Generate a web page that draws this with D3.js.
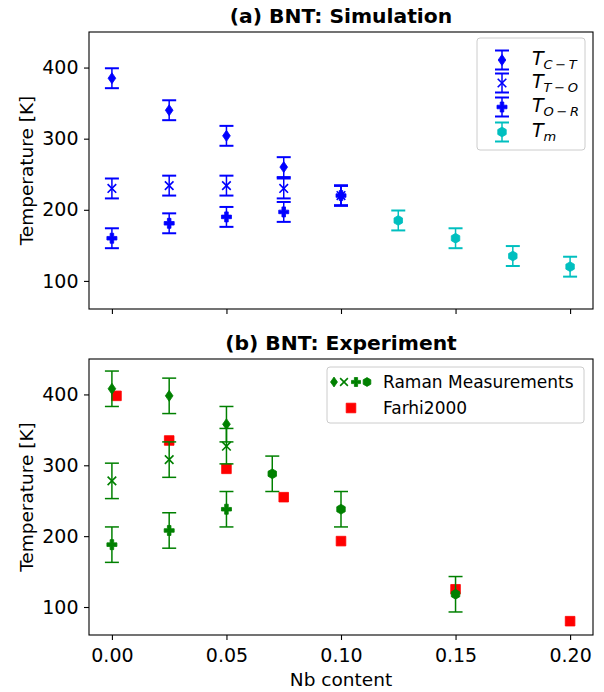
<!DOCTYPE html>
<html>
<head>
<meta charset="utf-8">
<script src="https://cdn.jsdelivr.net/npm/d3@7"></script>
<style>
  body { margin: 0; background: #fff; }
  svg { font-family: "DejaVu Sans", sans-serif; }
</style>
</head>
<body>
<div id="chart"></div>
<script>
// ---- data ----
// (a) simulation
const simX   = [0, 0.025, 0.05, 0.075, 0.1];
const simTCT = [385, 340, 304, 260, 220];
const simTTO = [230, 234, 234, 230, 220];
const simTOR = [160, 181, 190, 197, 220];
const simMeltX = [0.125, 0.15, 0.175, 0.2];
const simTm    = [185, 160, 135, 120];
const simErr = 14;

// (b) experiment
const expX   = [0, 0.025, 0.05];
const expTCT = [408, 398, 358];
const expTTO = [278, 308, 327];
const expTOR = [188, 208, 238];
const expMeltX = [0.07, 0.1, 0.15];
const expTm    = [288, 238, 118];
const expErr = 25;
const farhiX = [0.002, 0.025, 0.05, 0.075, 0.1, 0.15, 0.2];
const farhiT = [398, 335, 295, 255, 193, 125, 80];

const xTicks = [0, 0.05, 0.1, 0.15, 0.2];
const yTicks = [100, 200, 300, 400];
const yDomain = [60.5, 450];

// ---- layout ----
const W = 604, H = 692;
const svg = d3.select("#chart").append("svg")
	.attr("width", W).attr("height", H);

const x = d3.scaleLinear([-0.01, 0.21], [89, 593]);

const blue = "#0000ff", cyan = "#00bfbf", green = "#008000", red = "#ff0000";

// marker shapes, r = half size
function markerPath(shape, r) {
	if (shape === "d") return `M0,${-r}L${0.7 * r},0L0,${r}L${-0.7 * r},0Z`;
	if (shape === "x") return `M${-r},${-r}L${r},${r}M${-r},${r}L${r},${-r}`;
	if (shape === "P") {
		const a = r / 2.8;
		return `M${-a},${-r}H${a}V${-a}H${r}V${a}H${a}V${r}H${-a}V${a}H${-r}V${-a}H${-a}Z`;
	}
	if (shape === "h") {
		const pts = d3.range(6).map(k => {
			const ang = (-90 + k * 60) * Math.PI / 180;
			return [r * Math.cos(ang), r * Math.sin(ang)];
		});
		return "M" + pts.map(p => p.join(",")).join("L") + "Z";
	}
	if (shape === "s") return `M${-r},${-r}H${r}V${r}H${-r}Z`;
}
const markerSize = { d: 5.5, x: 4.3, P: 5, h: 4.9, s: 4.8 };

function drawMarker(sel, shape, color, r) {
	sel.attr("d", markerPath(shape, r || markerSize[shape]));
	if (shape === "x") sel.attr("fill", "none").attr("stroke", color).attr("stroke-width", 1.6);
	else sel.attr("fill", color).attr("stroke", color).attr("stroke-width", 0.8);
}

function drawSeries(g, y, xs, ys, err, shape, color, capW) {
	const pts = xs.map((v, i) => [v, ys[i]]);
	const grp = g.append("g");
	if (err) {
		grp.selectAll("line.bar").data(pts).join("line")
			.attr("x1", d => x(d[0])).attr("x2", d => x(d[0]))
			.attr("y1", d => y(d[1] - err)).attr("y2", d => y(d[1] + err))
			.attr("stroke", color).attr("stroke-width", 1.5);
		[-1, 1].forEach(s => {
			grp.selectAll(null).data(pts).join("line")
				.attr("x1", d => x(d[0]) - 7).attr("x2", d => x(d[0]) + 7)
				.attr("y1", d => y(d[1] + s * err)).attr("y2", d => y(d[1] + s * err))
				.attr("stroke", color).attr("stroke-width", capW);
		});
	}
	grp.selectAll("path.m").data(pts).join("path")
		.attr("transform", d => `translate(${x(d[0])},${y(d[1])})`)
		.call(drawMarker, shape, color);
}

function drawPanel(top, bottom, title, showXLabels) {
	const y = d3.scaleLinear(yDomain, [bottom, top]);
	const g = svg.append("g");

	// axes
	const ax = g.append("g").attr("transform", `translate(0,${bottom})`)
		.call(d3.axisBottom(x).tickValues(xTicks).tickSize(5).tickPadding(8.5)
			.tickFormat(showXLabels ? d3.format(".2f") : () => ""));
	const ay = g.append("g").attr("transform", `translate(${x.range()[0]},0)`)
		.call(d3.axisLeft(y).tickValues(yTicks).tickSize(5).tickPadding(5.5));
	[ax, ay].forEach(a => {
		a.select(".domain").remove();
		a.selectAll(".tick line").attr("stroke", "#000").attr("stroke-width", 1.1);
		a.selectAll("text").attr("font-size", 19).attr("font-family", "DejaVu Sans").attr("fill", "#000");
	});

	// frame
	g.append("rect")
		.attr("x", x.range()[0]).attr("y", top)
		.attr("width", x.range()[1] - x.range()[0]).attr("height", bottom - top)
		.attr("fill", "none").attr("stroke", "#000").attr("stroke-width", 1.1);

	g.append("text")
		.attr("x", (x.range()[0] + x.range()[1]) / 2).attr("y", top - 9)
		.attr("text-anchor", "middle").attr("font-weight", "bold").attr("font-size", 20.3)
		.text(title);

	g.append("text")
		.attr("transform", `translate(33,${(top + bottom) / 2})rotate(-90)`)
		.attr("text-anchor", "middle").attr("font-size", 18.5)
		.text("Temperature [K]");

	return { g, y };
}

// ---- (a) simulation ----
const pa = drawPanel(32, 309, "(a) BNT: Simulation", false);
drawSeries(pa.g, pa.y, simX, simTCT, simErr, "d", blue, 2);
drawSeries(pa.g, pa.y, simX, simTTO, simErr, "x", blue, 2);
drawSeries(pa.g, pa.y, simX, simTOR, simErr, "P", blue, 2);
drawSeries(pa.g, pa.y, simMeltX, simTm, simErr, "h", cyan, 2);

// legend (a)
const legA = svg.append("g");
legA.append("rect").attr("x", 477).attr("y", 38).attr("width", 108).attr("height", 112)
	.attr("rx", 3).attr("fill", "#fff").attr("fill-opacity", 0.8)
	.attr("stroke", "#cccccc").attr("stroke-width", 1);
const legAItems = [
	{ sub: "C\u2009\u2212\u2009T", shape: "d", color: blue, y: 60 },
	{ sub: "T\u2009\u2212\u2009O", shape: "x", color: blue, y: 83 },
	{ sub: "O\u2009\u2212\u2009R", shape: "P", color: blue, y: 107 },
	{ sub: "m", shape: "h", color: cyan, y: 132 }
];
legAItems.forEach(it => {
	const hx = 502;
	legA.append("line").attr("x1", hx).attr("x2", hx).attr("y1", it.y - 9.5).attr("y2", it.y + 9.5)
		.attr("stroke", it.color).attr("stroke-width", 1.5);
	[-9.5, 9.5].forEach(o => legA.append("line")
		.attr("x1", hx - 7).attr("x2", hx + 7).attr("y1", it.y + o).attr("y2", it.y + o)
		.attr("stroke", it.color).attr("stroke-width", 2));
	legA.append("path").attr("transform", `translate(${hx},${it.y})`).call(drawMarker, it.shape, it.color);
	const t = legA.append("text").attr("x", 532).attr("y", it.y + 5).attr("font-size", 19);
	t.append("tspan").attr("font-style", "italic").text("T");
	t.append("tspan").attr("font-style", "italic").attr("font-size", 13).attr("dy", 4).text(it.sub);
});

// ---- (b) experiment ----
const pb = drawPanel(359, 635, "(b) BNT: Experiment", true);
drawSeries(pb.g, pb.y, farhiX, farhiT, 0, "s", red, 0);
drawSeries(pb.g, pb.y, expX, expTCT, expErr, "d", green, 1.5);
drawSeries(pb.g, pb.y, expX, expTTO, expErr, "x", green, 1.5);
drawSeries(pb.g, pb.y, expX, expTOR, expErr, "P", green, 1.5);
drawSeries(pb.g, pb.y, expMeltX, expTm, expErr, "h", green, 1.5);

// legend (b)
const legB = svg.append("g");
legB.append("rect").attr("x", 327).attr("y", 367).attr("width", 257).attr("height", 56)
	.attr("rx", 3).attr("fill", "#fff").attr("fill-opacity", 0.8)
	.attr("stroke", "#cccccc").attr("stroke-width", 1);
[["d", 334], ["x", 344], ["P", 356], ["h", 367]].forEach(([s, hx]) => {
	legB.append("path").attr("transform", `translate(${hx},382)`)
		.call(drawMarker, s, green, markerSize[s] * 0.9);
});
legB.append("text").attr("x", 383).attr("y", 388).attr("font-size", 17).text("Raman Measurements");
legB.append("path").attr("transform", "translate(351,408)").call(drawMarker, "s", red);
legB.append("text").attr("x", 383).attr("y", 414).attr("font-size", 17).text("Farhi2000");

// x label
svg.append("text").attr("x", (x.range()[0] + x.range()[1]) / 2).attr("y", 686)
	.attr("text-anchor", "middle").attr("font-size", 18.5).text("Nb content");
</script>
</body>
</html>
